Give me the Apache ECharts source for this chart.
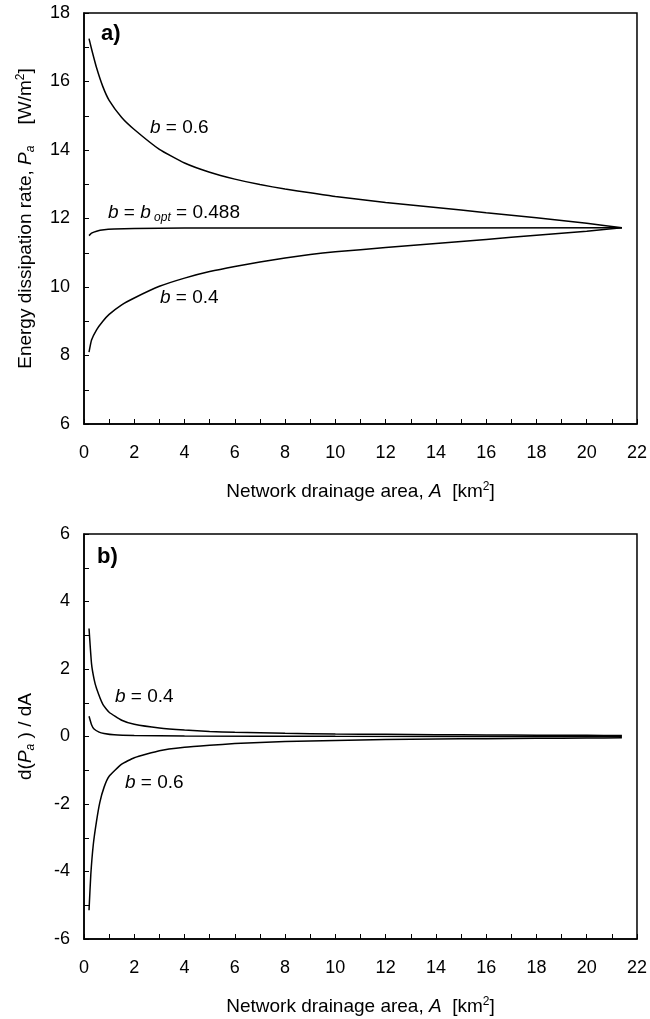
<!DOCTYPE html>
<html>
<head>
<meta charset="utf-8">
<script src="https://cdn.jsdelivr.net/npm/echarts@6/dist/echarts.min.js"></script>
<style>
  html, body { margin: 0; padding: 0; background: #fff; }
  #main { width: 650px; height: 1019px; }
</style>
</head>
<body>
<div id="main"></div>
<script>
// a) Energy dissipation rate Pa [W/m2] vs network drainage area A [km2]
const areaA = [0.2, 0.3, 0.5, 0.75, 1, 1.5, 2, 3, 4, 5, 6, 7, 8, 9, 10, 12, 14, 16, 18, 20, 21.4]
const pa06 = [17.25, 16.95, 16.4, 15.85, 15.45, 14.95, 14.6, 14.02, 13.62, 13.35, 13.15, 12.99, 12.86, 12.75, 12.64, 12.47, 12.32, 12.17, 12.02, 11.86, 11.73]
const pa04 = [8.1, 8.45, 8.75, 9.0, 9.2, 9.48, 9.68, 10.02, 10.26, 10.45, 10.6, 10.73, 10.85, 10.95, 11.03, 11.15, 11.27, 11.39, 11.51, 11.63, 11.73]
const areaOpt = [0.2, 0.3, 0.5, 0.8, 1.2, 2, 4, 21.4]
const paOpt = [11.5, 11.57, 11.63, 11.67, 11.69, 11.71, 11.72, 11.73]

// b) d(Pa)/dA vs A
const areaB04 = [0.2, 0.3, 0.4, 0.5, 0.75, 1, 1.5, 2, 3, 4, 5, 6, 8, 10, 12, 14, 16, 18, 20, 21.4]
const dpa04 = [3.2, 2.15, 1.7, 1.42, 0.95, 0.72, 0.48, 0.36, 0.25, 0.19, 0.15, 0.125, 0.095, 0.075, 0.063, 0.053, 0.046, 0.04, 0.035, 0.03]
const areaB06 = [0.2, 0.27, 0.37, 0.5, 0.63, 0.8, 1, 1.5, 2, 3, 4, 5, 6, 8, 10, 12, 14, 16, 18, 20, 21.4]
const dpa06 = [-5.15, -4.1, -3.2, -2.5, -1.95, -1.5, -1.18, -0.82, -0.63, -0.42, -0.32, -0.26, -0.21, -0.15, -0.115, -0.092, -0.075, -0.063, -0.053, -0.045, -0.04]
const areaBOpt = [0.2, 0.3, 0.4, 0.6, 0.8, 1.2, 2, 4, 10, 21.4]
const dpaOpt = [0.6, 0.35, 0.22, 0.13, 0.09, 0.05, 0.03, 0.015, 0.005, 0]

// axis ranges: [min, max, interval]
const xTicks = [0, 22, 2]
const yTicksA = [6, 18, 2]
const yTicksB = [-6, 6, 2]

const FONT = 'Liberation Sans, Arial, sans-serif'

function zip(xs, ys) {
  let out = []
  for (let i = 0; i < xs.length; i++) {
    out.push([xs[i], ys[i]])
  }
  return out
}

// rich text pieces used by titles and annotations
const richStyles = {
  i: { fontStyle: 'italic', fontSize: 19, fontFamily: FONT, lineHeight: 22 },
  sub: { fontStyle: 'italic', fontSize: 12, fontFamily: FONT, lineHeight: 13, verticalAlign: 'bottom' },
  sup: { fontSize: 12, fontFamily: FONT, lineHeight: 13, verticalAlign: 'top' },
}

function xAxisOf(grid) {
  return {
    type: 'value',
    gridIndex: grid,
    min: xTicks[0],
    max: xTicks[1],
    interval: xTicks[2],
    name: 'Network drainage area, {i|A}  [km{sup|2}]',
    nameLocation: 'middle',
    nameGap: 57,
    nameTextStyle: { color: '#000', fontSize: 19, fontFamily: FONT, lineHeight: 22, rich: richStyles },
    axisLine: { onZero: false, lineStyle: { color: '#000', width: 1.5 } },
    axisTick: { inside: true, length: 5, lineStyle: { color: '#000', width: 1 } },
    minorTick: { show: true, splitNumber: 2, length: 5, lineStyle: { color: '#000', width: 1 } },
    axisLabel: { color: '#000', fontSize: 18, fontFamily: FONT, margin: 20 },
    splitLine: { show: false },
  }
}

function yAxisOf(grid, ticks, name) {
  return {
    type: 'value',
    gridIndex: grid,
    min: ticks[0],
    max: ticks[1],
    interval: ticks[2],
    name: name,
    nameLocation: 'middle',
    nameRotate: 90,
    nameGap: 47,
    nameTextStyle: { color: '#000', fontSize: 19, fontFamily: FONT, lineHeight: 22, rich: richStyles },
    axisLine: { onZero: false, lineStyle: { color: '#000', width: 1.5 } },
    axisTick: { inside: true, length: 5, lineStyle: { color: '#000', width: 1 } },
    minorTick: { show: true, splitNumber: 2, length: 5, lineStyle: { color: '#000', width: 1 } },
    axisLabel: { color: '#000', fontSize: 18, fontFamily: FONT, margin: 14 },
    splitLine: { show: false },
  }
}

function curve(name, grid, data) {
  return {
    name: name,
    type: 'line',
    xAxisIndex: grid,
    yAxisIndex: grid,
    data: data,
    showSymbol: false,
    smooth: 0.15,
    lineStyle: { color: '#000', width: 1.5 },
    animation: false,
  }
}

function note(left, top, text, bold) {
  return {
    type: 'text',
    left: left,
    top: top,
    style: {
      text: text,
      rich: richStyles,
      fill: '#000',
      fontSize: bold ? 22 : 19,
      fontWeight: bold ? 'bold' : 'normal',
      fontFamily: FONT,
      lineHeight: 22,
    },
  }
}

let myChart = echarts.init(document.getElementById('main'))
let option = {
  backgroundColor: '#fff',
  animation: false,
  grid: [
    { left: 84, top: 13, width: 555, height: 411, show: true, borderColor: '#000', borderWidth: 1.5 },
    { left: 84, top: 534, width: 555, height: 407, show: true, borderColor: '#000', borderWidth: 1.5 },
  ],
  xAxis: [xAxisOf(0), xAxisOf(1)],
  yAxis: [
    yAxisOf(0, yTicksA, 'Energy dissipation rate, {i|P}{sub|a}    [W/m{sup|2}]'),
    yAxisOf(1, yTicksB, 'd({i|P}{sub|a} ) / dA'),
  ],
  series: [
    curve('b = 0.6', 0, zip(areaA, pa06)),
    curve('b = bopt', 0, zip(areaOpt, paOpt)),
    curve('b = 0.4', 0, zip(areaA, pa04)),
    curve('b = 0.4', 1, zip(areaB04, dpa04)),
    curve('b = bopt', 1, zip(areaBOpt, dpaOpt)),
    curve('b = 0.6', 1, zip(areaB06, dpa06)),
  ],
  graphic: [
    note(101, 23, 'a)', true),
    note(150, 117, '{i|b} = 0.6'),
    note(108, 202, '{i|b} = {i|b}{sub| opt} = 0.488'),
    note(160, 287, '{i|b} = 0.4'),
    note(97, 546, 'b)', true),
    note(115, 686, '{i|b} = 0.4'),
    note(125, 772, '{i|b} = 0.6'),
  ],
}
myChart.setOption(option)
</script>
</body>
</html>
